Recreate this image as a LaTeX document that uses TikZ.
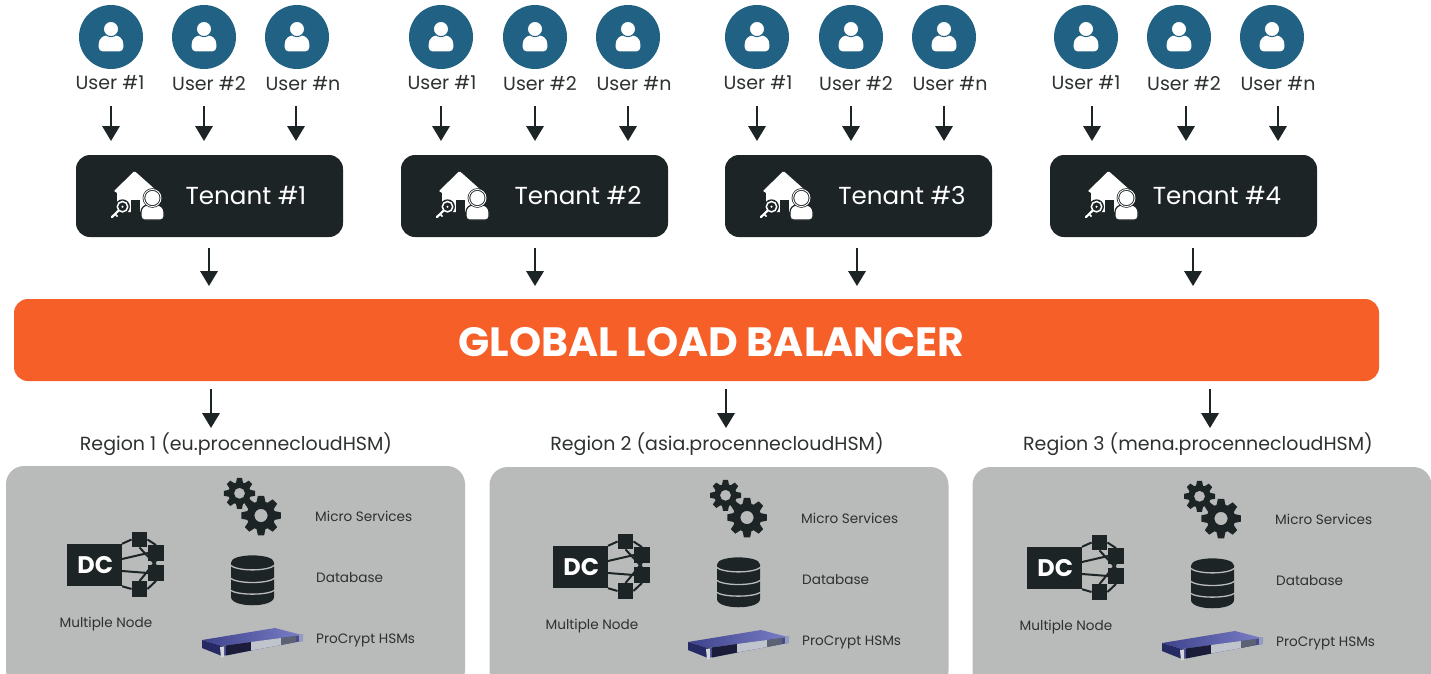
\documentclass[tikz,border=0pt]{standalone}
\usepackage{fontspec}
\setmainfont{Poppins}
\definecolor{ink}{HTML}{1D2426}
\definecolor{labelink}{HTML}{2E3132}
\definecolor{userblue}{HTML}{216183}
\definecolor{lborange}{HTML}{F75F28}
\definecolor{panelgrey}{HTML}{B9BBBA}
\definecolor{hsmtopa}{RGB}{62,66,140}
\definecolor{hsmtopb}{RGB}{122,126,198}
\definecolor{hsmside}{RGB}{38,42,100}
\definecolor{hsmfront}{RGB}{70,74,140}
\definecolor{hsmwin}{RGB}{26,28,58}
\definecolor{hsmsilver}{RGB}{192,196,204}
\definecolor{hsmright}{RGB}{92,98,118}
\definecolor{hsmear}{RGB}{150,154,190}
\usetikzlibrary{arrows.meta}
\tikzset{
  userdisc/.style={circle,fill=userblue,draw=none,minimum size=64pt,inner sep=0pt},
  userlabel/.style={text=labelink,font=\fontsize{19}{21}\selectfont,inner sep=0pt},
  downarrow/.style={draw=ink,line width=1.9pt,-{Triangle[length=15pt,width=17.5pt]}},
  tenantbox/.style={fill=ink,draw=none,rounded corners=14pt,minimum width=267pt,minimum height=82pt,inner sep=0pt},
  tenantlabel/.style={text=white,font=\fontsize{24.6}{27}\selectfont,inner sep=0pt},
  balancer/.style={fill=lborange,draw=none,rounded corners=14pt,minimum width=1365pt,minimum height=82pt,inner sep=0pt},
  regionlabel/.style={text=labelink,font=\fontsize{19}{21}\selectfont,inner sep=0pt},
  panelbox/.style={fill=panelgrey,draw=none,rounded corners=18pt},
  smalllabel/.style={text=labelink,font=\fontsize{13.6}{15}\selectfont,inner sep=0pt},
  squarenode/.style={fill=ink,draw=none},
}
% left right top bottom topradius bottomradius
\newcommand{\bodypath}[6]{%
  (#1+#6,#4) .. controls (#1+0.45*#6,#4) and (#1,#4-0.45*#6) .. (#1,#4-#6)
  -- (#1,#3+#5) .. controls (#1,#3+0.45*#5) and (#1+0.45*#5,#3) .. (#1+#5,#3)
  -- (#2-#5,#3) .. controls (#2-0.45*#5,#3) and (#2,#3+0.45*#5) .. (#2,#3+#5)
  -- (#2,#4-#6) .. controls (#2,#4-0.45*#6) and (#2-0.45*#6,#4) .. (#2-#6,#4) -- cycle}
\newcommand{\personglyph}[3]{%
  \fill[white] \bodypath{#1-12.3}{#1+12.3}{#2-1.6}{#2+14.4}{8.6}{4};
  \fill[white,draw=#3,line width=1pt] (#1,#2-8) circle (7.6);
}
\newcommand{\gearglyph}[5]{% x y outer inner hole
  \fill[ink,even odd rule]
    plot[samples at={0,...,31},variable=\k] ({#1+(mod(\k,4)<2?#3:#4)*cos(floor(\k/4)*45+(mod(\k,4)==0?-9:(mod(\k,4)==1?9:(mod(\k,4)==2?18:27))))},{#2+(mod(\k,4)<2?#3:#4)*sin(floor(\k/4)*45+(mod(\k,4)==0?-9:(mod(\k,4)==1?9:(mod(\k,4)==2?18:27))))}) -- cycle
    (#1,#2) circle (#5);
}
\begin{document}
\begin{tikzpicture}[x=1pt,y=-1pt]
\useasboundingbox (0,0) rectangle (1431,673);
\clip (0,0) rectangle (1431,673);
% users
\foreach \gi/\ax/\bx/\cx/\la/\lb/\lc/\aa/\ab/\ac in {1/111/204/297/110/209/303/111/204/296,2/441/535/628/442/540/634/441/535/628,3/757/851/944/758/856/950/757/851/944,4/1086/1179/1272/1086/1184/1278/1092/1186/1278}{
  \foreach \ui/\ux/\lx/\ltxt/\ly/\arx in {a/\ax/\la/{User \#1}/82.5/\aa,b/\bx/\lb/{User \#2}/83.5/\ab,c/\cx/\lc/{User \#n}/83.5/\ac}{
    \node[userdisc] (disc\gi\ui) at (\ux,37) {};
    \personglyph{\ux}{37}{userblue}
    \node[userlabel] (ulabel\gi\ui) at (\lx,\ly) {\ltxt};
    \coordinate (ua\gi\ui) at (\arx,106);
    \coordinate (ub\gi\ui) at (\arx,141);
    \draw[downarrow] (ua\gi\ui) -- (ub\gi\ui);
  }
}
% tenants
\foreach \ti/\bx/\tx/\ax/\dx in {1/209.5/246/209/0,2/534.5/578/535/325,3/858.5/902/857/649,4/1183.5/1217/1193/974}{
  \node[tenantbox] (tenant\ti) at (\bx,196) {};
  \node[tenantlabel] (tlabel\ti) at (\tx,196) {Tenant \#\ti};
  \begin{scope}[xshift=\dx pt]
    % house
    \fill[white,rounded corners=1.2pt] (134.5,171) -- (157,191) -- (151,191) -- (151,205) -- (141,212) -- (117,212) -- (117,192) -- (113.5,191.5) -- cycle;
    \fill[ink] (131,200) rectangle (140,213);
    % key
    \fill[ink] (122.5,206.7) circle (7.4);
    \draw[ink,line width=4.5pt] (118.5,211) -- (110,219);
    \draw[white,line width=1.5pt] (122.5,206.7) circle (5.2);
    \fill[white] (122.5,206.7) circle (1.2);
    \draw[white,line width=2.2pt,line cap=round] (118.5,210.7) -- (112,217);
    \draw[white,line width=1.6pt] (115,214) -- (117.5,216.5);
    % person
    \fill[white,draw=ink,line width=1.2pt] \bodypath{141}{164}{205}{220}{7}{3.5};
    \fill[ink] (152.4,198) circle (9.8);
    \draw[white,line width=0.9pt] (152.4,198) circle (8.6);
    \fill[white] (152.4,198) circle (7.1);
  \end{scope}
  \coordinate (ta\ti) at (\ax,248);
  \coordinate (tb\ti) at (\ax,286);
  \draw[downarrow] (ta\ti) -- (tb\ti);
}
% balancer
\node[balancer] (glb) at (696.5,340) {};
\node[text=white,font=\bfseries\fontsize{40.9}{44}\selectfont,inner sep=0pt] (glbtext) at (711.5,342) {GLOBAL LOAD BALANCER};
% regions
\foreach \ri/\ax/\lx/\ltxt/\px/\dx/\dy/\ptop in {1/211/236/{Region 1 (eu.procennecloudHSM)}/235.5/0/0/466,2/726/717/{Region 2 (asia.procennecloudHSM)}/719/486/2/467,3/1210/1198/{Region 3 (mena.procennecloudHSM)}/1202/960/3/467}{
  \coordinate (ra\ri) at (\ax,389);
  \coordinate (rb\ri) at (\ax,428);
  \draw[downarrow] (ra\ri) -- (rb\ri);
  \node[regionlabel] (rlabel\ri) at (\lx,444) {\ltxt};
  \node[panelbox,minimum width=459pt,minimum height=222pt,inner sep=0pt] (panel\ri) at (\px,\ptop+111) {};
  \begin{scope}[xshift=\dx pt,yshift=-\dy pt]
    \gearglyph{239.5}{493.3}{15.7}{11.2}{5.5}
    \gearglyph{261}{515.5}{20}{14.3}{6.6}
    \node[smalllabel,anchor=west] (ms\ri) at (315,516.5) {Micro Services};
    % database
    \fill[ink] (231,562.5) .. controls (231,553) and (274,553) .. (274,562.5) -- (274,597) .. controls (274,608) and (231,608) .. (231,597) -- cycle;
    \draw[panelgrey,line width=1.3pt] (230,565) .. controls (237,571.5) and (268,571.5) .. (275,565);
    \draw[panelgrey,line width=1.3pt] (230,578) .. controls (237,584) and (268,584) .. (275,578);
    \draw[panelgrey,line width=1.3pt] (230,590) .. controls (237,595.5) and (268,595.5) .. (275,590);
    \node[smalllabel,anchor=west] (dbl\ri) at (316,577.5) {Database};
    % HSM
    \shade[left color=hsmtopa,right color=hsmtopb] (202,640) -- (275,628) -- (302,635) -- (222,646) -- cycle;
    \fill[hsmside] (202,640) -- (222,646) -- (222,656) -- (202,648) -- cycle;
    \fill[hsmfront] (222,646) -- (302,635) -- (302,641) -- (222,656) -- cycle;
    \fill[hsmwin] (226,645.5) -- (251,642) -- (251,650.5) -- (226,655.5) -- cycle;
    \fill[hsmsilver] (251,642) -- (281,638) -- (281,645) -- (251,650.5) -- cycle;
    \fill[hsmright] (281,638) -- (296,636) -- (296,642) -- (281,645) -- cycle;
    \fill[hsmear] (299,634.5) -- (303,634) -- (303,641) -- (299,642) -- cycle;
    \fill[hsmsilver!70!white] (220,647) -- (224,646.5) -- (224,656.5) -- (221,657.5) -- cycle;
    \node[smalllabel,anchor=west] (hsm\ri) at (316,640) {ProCrypt HSMs};
    % DC
    \node[squarenode,minimum width=55pt,minimum height=42pt,inner sep=0pt,text=white,font=\bfseries\fontsize{24}{26}\selectfont] (dc\ri) at (94.3,565) {\hspace{2pt}\raisebox{-1.5pt}{DC}};
    \node[squarenode,minimum size=15.5pt,inner sep=0pt] (na\ri) at (139.5,539.5) {};
    \node[squarenode,minimum size=15.5pt,inner sep=0pt] (nb\ri) at (156,553) {};
    \node[squarenode,minimum size=15.5pt,inner sep=0pt] (nc\ri) at (156,573) {};
    \node[squarenode,minimum size=15.5pt,inner sep=0pt] (nd\ri) at (139.5,589) {};
    \draw[ink,line width=2pt]
      (dc\ri.north east) -- (na\ri.west)
      ([yshift=6pt]dc\ri.east) -- (nb\ri.west)
      ([yshift=-6pt]dc\ri.east) -- (nc\ri.west)
      (dc\ri.south east) -- (nd\ri.west)
      (na\ri.south) -- (nc\ri.north)
      (nb\ri.south) -- (nd\ri.north)
      (na\ri.east) -- (nb\ri.north)
      (nc\ri.south) -- (nd\ri.east);
    \node[smalllabel] (mnl\ri) at (106,624) {Multiple Node};
  \end{scope}
}
\end{tikzpicture}
\end{document}
